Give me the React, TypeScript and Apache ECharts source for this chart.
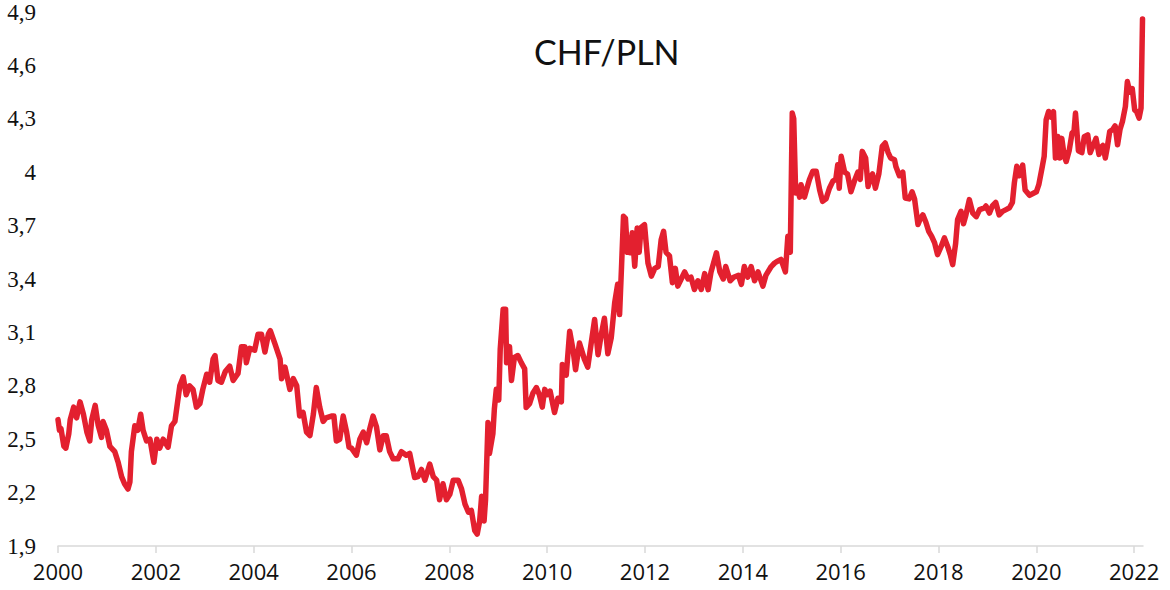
// CHF/PLN weekly-ish rate 2000 - March 2022, single red line.
import { useEffect, useRef } from 'react'
import * as echarts from 'echarts'

const TITLE = 'CHF/PLN'

// sample dates as decimal years
const DECIMAL_YEARS = [
  2000.0, 2000.03, 2000.06, 2000.12, 2000.16, 2000.22, 2000.25, 2000.32, 2000.38, 2000.45,
  2000.52, 2000.59, 2000.65, 2000.69, 2000.76, 2000.82, 2000.89, 2000.92, 2000.99, 2001.06,
  2001.16, 2001.23, 2001.3, 2001.36, 2001.43, 2001.47, 2001.5, 2001.57, 2001.63, 2001.69,
  2001.74, 2001.81, 2001.88, 2001.96, 2002.02, 2002.08, 2002.15, 2002.25, 2002.32, 2002.39,
  2002.49, 2002.56, 2002.62, 2002.69, 2002.76, 2002.83, 2002.9, 2002.96, 2003.04, 2003.1,
  2003.17, 2003.21, 2003.27, 2003.34, 2003.42, 2003.51, 2003.58, 2003.68, 2003.75, 2003.82,
  2003.85, 2003.92, 2004.02, 2004.09, 2004.16, 2004.23, 2004.3, 2004.34, 2004.43, 2004.54,
  2004.57, 2004.64, 2004.74, 2004.81, 2004.88, 2004.94, 2005.01, 2005.08, 2005.15, 2005.22,
  2005.28, 2005.35, 2005.42, 2005.48, 2005.59, 2005.64, 2005.69, 2005.76, 2005.83, 2005.9,
  2005.95, 2006.0, 2006.1, 2006.17, 2006.24, 2006.31, 2006.37, 2006.44, 2006.51, 2006.58,
  2006.65, 2006.71, 2006.78, 2006.85, 2006.95, 2007.02, 2007.12, 2007.19, 2007.29, 2007.36,
  2007.43, 2007.5, 2007.6, 2007.67, 2007.74, 2007.8, 2007.87, 2007.94, 2008.01, 2008.08,
  2008.18, 2008.25, 2008.32, 2008.39, 2008.45, 2008.52, 2008.57, 2008.62, 2008.66, 2008.71,
  2008.74, 2008.79, 2008.82, 2008.89, 2008.92, 2008.96, 2009.01, 2009.04, 2009.1, 2009.15,
  2009.17, 2009.23, 2009.27, 2009.33, 2009.4, 2009.47, 2009.54, 2009.57, 2009.64, 2009.71,
  2009.78, 2009.84, 2009.9, 2009.95, 2010.01, 2010.06, 2010.15, 2010.22, 2010.29, 2010.31,
  2010.39, 2010.46, 2010.53, 2010.58, 2010.66, 2010.76, 2010.83, 2010.9, 2010.97, 2011.04,
  2011.1, 2011.17, 2011.24, 2011.31, 2011.38, 2011.44, 2011.48, 2011.52, 2011.56, 2011.6,
  2011.64, 2011.68, 2011.7, 2011.74, 2011.79, 2011.84, 2011.88, 2011.92, 2011.99, 2012.06,
  2012.13, 2012.2, 2012.27, 2012.33, 2012.38, 2012.43, 2012.5, 2012.56, 2012.62, 2012.67,
  2012.74, 2012.81, 2012.88, 2012.94, 2013.01, 2013.08, 2013.15, 2013.22, 2013.29, 2013.35,
  2013.46, 2013.53, 2013.6, 2013.65, 2013.74, 2013.81, 2013.91, 2013.97, 2014.03, 2014.1,
  2014.17, 2014.24, 2014.31, 2014.41, 2014.47, 2014.58, 2014.65, 2014.71, 2014.78, 2014.87,
  2014.92, 2014.97, 2015.01, 2015.04, 2015.08, 2015.12, 2015.16, 2015.19, 2015.26, 2015.3,
  2015.36, 2015.43, 2015.5, 2015.57, 2015.63, 2015.7, 2015.77, 2015.84, 2015.9, 2015.94,
  2015.97, 2016.01, 2016.08, 2016.14, 2016.21, 2016.28, 2016.35, 2016.4, 2016.44, 2016.51,
  2016.56, 2016.61, 2016.65, 2016.71, 2016.78, 2016.85, 2016.91, 2016.97, 2017.02, 2017.1,
  2017.13, 2017.2, 2017.27, 2017.32, 2017.4, 2017.46, 2017.51, 2017.58, 2017.63, 2017.68,
  2017.74, 2017.8, 2017.86, 2017.92, 2017.98, 2018.05, 2018.12, 2018.19, 2018.24, 2018.29,
  2018.35, 2018.39, 2018.46, 2018.51, 2018.56, 2018.63, 2018.7, 2018.77, 2018.84, 2018.94,
  2018.97, 2019.04, 2019.1, 2019.17, 2019.24, 2019.31, 2019.38, 2019.45, 2019.51, 2019.55,
  2019.6, 2019.65, 2019.72, 2019.77, 2019.86, 2019.93, 2020.0, 2020.05, 2020.12, 2020.16,
  2020.2, 2020.25, 2020.3, 2020.35, 2020.39, 2020.44, 2020.48, 2020.52, 2020.57, 2020.61,
  2020.67, 2020.73, 2020.77, 2020.8, 2020.86, 2020.93, 2020.98, 2021.05, 2021.1, 2021.19,
  2021.22, 2021.28, 2021.32, 2021.36, 2021.41, 2021.45, 2021.5, 2021.56, 2021.61, 2021.66,
  2021.71, 2021.76, 2021.82, 2021.86, 2021.91, 2021.96, 2022.01, 2022.05, 2022.1, 2022.14,
  2022.17,
]

const CHF_PLN = [
  2.61, 2.55, 2.56, 2.46, 2.45, 2.53, 2.61, 2.68, 2.62, 2.71,
  2.64, 2.54, 2.49, 2.61, 2.69, 2.58, 2.51, 2.6, 2.55, 2.46,
  2.43, 2.37, 2.29, 2.25, 2.22, 2.26, 2.43, 2.575, 2.55, 2.64,
  2.55, 2.49, 2.5, 2.37, 2.5, 2.45, 2.5, 2.455, 2.575, 2.6,
  2.8, 2.85, 2.75, 2.8, 2.78, 2.68, 2.7, 2.78, 2.865, 2.82,
  2.95, 2.97, 2.83, 2.82, 2.88, 2.91, 2.83, 2.87, 3.02, 3.02,
  2.93, 3.01, 3.0, 3.09, 3.09, 2.99, 3.09, 3.11, 3.04, 2.95,
  2.84, 2.905, 2.78, 2.84, 2.8, 2.63, 2.65, 2.54, 2.52, 2.64,
  2.79, 2.68, 2.6, 2.62, 2.63, 2.63, 2.49, 2.5, 2.63, 2.54,
  2.455, 2.45, 2.41, 2.5, 2.54, 2.48, 2.555, 2.63, 2.57, 2.44,
  2.52, 2.52, 2.43, 2.39, 2.39, 2.43, 2.41, 2.42, 2.285, 2.29,
  2.33, 2.27, 2.36, 2.29, 2.27, 2.16, 2.25, 2.16, 2.19, 2.27,
  2.27, 2.22, 2.135, 2.09, 2.1, 1.986, 1.967, 2.04, 2.18, 2.04,
  2.16, 2.594, 2.42, 2.53, 2.668, 2.78, 2.72, 3.005, 3.23, 3.23,
  2.93, 3.02, 2.83, 2.96, 2.97, 2.93, 2.895, 2.678, 2.7, 2.76,
  2.79, 2.75, 2.68, 2.78, 2.75, 2.77, 2.65, 2.73, 2.71, 2.92,
  2.86, 3.107, 3.0, 2.89, 3.04, 2.95, 2.905, 3.04, 3.173, 2.975,
  3.08, 3.18, 2.98, 3.07, 3.267, 3.37, 3.2, 3.47, 3.752, 3.74,
  3.55, 3.63, 3.547, 3.66, 3.472, 3.687, 3.55, 3.69, 3.705, 3.49,
  3.416, 3.46, 3.47, 3.62, 3.668, 3.55, 3.53, 3.379, 3.46, 3.36,
  3.4, 3.44, 3.4, 3.41, 3.341, 3.39, 3.341, 3.43, 3.34, 3.44,
  3.547, 3.44, 3.4, 3.47, 3.39, 3.41, 3.42, 3.37, 3.47, 3.41,
  3.47, 3.39, 3.44, 3.36, 3.42, 3.47, 3.49, 3.5, 3.51, 3.44,
  3.64, 3.55, 4.332, 4.3, 3.883, 3.91, 3.86, 3.93, 3.86, 3.9,
  3.958, 4.005, 4.005, 3.9, 3.836, 3.85, 3.91, 3.95, 3.96, 4.042,
  3.91, 4.089, 4.0, 3.99, 3.89, 3.95, 4.0, 3.96, 4.117, 4.08,
  3.92, 3.97, 3.99, 3.91, 3.99, 4.145, 4.164, 4.11, 4.08, 4.07,
  4.03, 3.98, 4.0, 3.855, 3.85, 3.89, 3.85, 3.706, 3.74, 3.76,
  3.72, 3.668, 3.64, 3.603, 3.537, 3.58, 3.631, 3.58, 3.537, 3.481,
  3.6, 3.734, 3.78, 3.71, 3.76, 3.846, 3.77, 3.75, 3.79, 3.8,
  3.81, 3.77, 3.81, 3.83, 3.76, 3.78, 3.79, 3.8, 3.83, 3.94,
  4.033, 3.98, 4.04, 3.9, 3.87, 3.88, 3.89, 3.93, 4.03, 4.09,
  4.294, 4.341, 4.31, 4.34, 4.08, 4.2, 4.08, 4.19, 4.09, 4.06,
  4.12, 4.22, 4.23, 4.332, 4.12, 4.11, 4.2, 4.21, 4.11, 4.17,
  4.19, 4.1, 4.14, 4.15, 4.08, 4.14, 4.229, 4.24, 4.26, 4.154,
  4.24, 4.285, 4.369, 4.509, 4.45, 4.47, 4.35, 4.34, 4.304, 4.36,
  4.86,
]

const Y_MIN = 1.9
const Y_MAX = 4.9
const Y_STEP = 0.3
const X_MIN = 2000
const X_MAX = 2022.18
const X_STEP = 2

const LINE_COLOR = '#e3202f'

// 4.0 is written "4", others with a comma as decimal separator
const formatRate = (v: number) => String(Number(v.toFixed(1))).replace('.', ',')

export default function App() {
  const ref = useRef<HTMLDivElement>(null)

  useEffect(() => {
    document.body.style.margin = '0'
    if (!ref.current) return
    const chart = echarts.init(ref.current, null, { renderer: 'svg' })

    chart.setOption({
      animation: false,
      backgroundColor: '#ffffff',
      title: {
        text: TITLE,
        left: 529,
        top: 29,
        textStyle: { fontFamily: 'Lato', fontSize: 34, fontWeight: 'normal', color: '#111' },
      },
      grid: { left: 58, right: 27, top: 12, bottom: 44 },
      xAxis: {
        type: 'value',
        min: X_MIN,
        max: X_MAX,
        interval: X_STEP,
        splitLine: { show: false },
        axisLine: { show: true, lineStyle: { color: '#d9d9d9', width: 1.5 } },
        axisTick: { show: true, length: 7, lineStyle: { color: '#d9d9d9', width: 1.5 } },
        axisLabel: {
          margin: 14,
          fontFamily: 'Open Sans',
          fontSize: 22,
          color: '#111',
          formatter: (v: number) => (v % 2 === 0 ? String(v) : ''),
          showMaxLabel: false,
        },
      },
      yAxis: {
        type: 'value',
        min: Y_MIN,
        max: Y_MAX,
        interval: Y_STEP,
        splitLine: { show: false },
        axisLine: { show: false },
        axisTick: { show: false },
        axisLabel: {
          margin: 22,
          fontFamily: 'Liberation Serif',
          fontSize: 23,
          color: '#111',
          formatter: formatRate,
        },
      },
      series: [
        {
          type: 'line',
          data: DECIMAL_YEARS.map((t, i) => [t, CHF_PLN[i]]),
          showSymbol: false,
          symbol: 'none',
          lineStyle: { color: LINE_COLOR, width: 5.5, join: 'round', cap: 'round' },
        },
      ],
    })

    return () => chart.dispose()
  }, [])

  return <div ref={ref} style={{ width: 1170, height: 590 }} />
}
